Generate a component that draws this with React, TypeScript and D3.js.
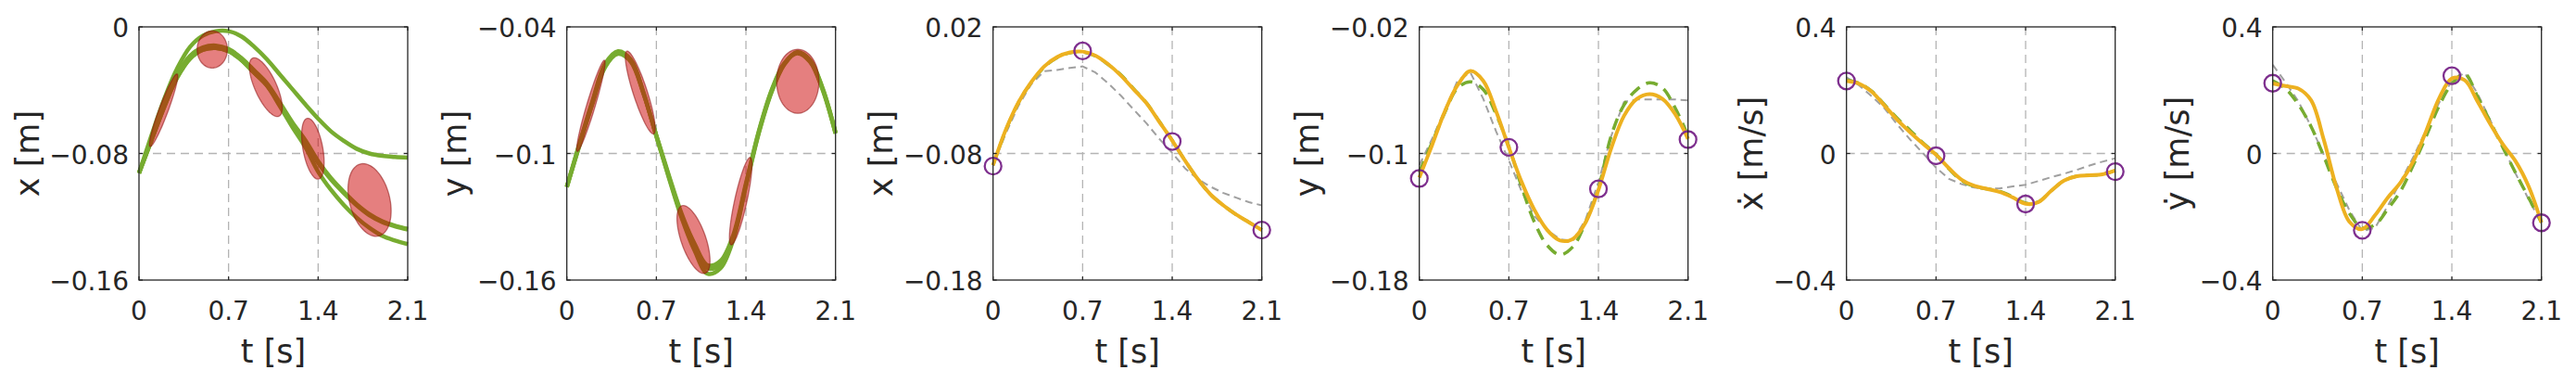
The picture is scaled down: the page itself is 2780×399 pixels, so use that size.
import React from 'react';
import * as d3 from 'd3';

// time grid of the sampled curves
const tGrid = [0, 0.1, 0.2, 0.3, 0.4, 0.5, 0.6, 0.7, 0.8, 0.9, 1.0, 1.1, 1.2, 1.3, 1.4, 1.5, 1.6, 1.7, 1.8, 1.9, 2.0, 2.1];
const tTicks = [0, 0.7, 1.4, 2.1];
const viaT = [0, 0.7, 1.4, 2.1];

// panel 1: x demonstrations
const xDemoA = [-0.0924, -0.0712, -0.0500, -0.0318, -0.0200, -0.0145, -0.0133, -0.0154, -0.0210, -0.0290, -0.0370, -0.0490, -0.0617, -0.0727, -0.0860, -0.0965, -0.1050, -0.1127, -0.1190, -0.1233, -0.1260, -0.1281];
const xDemoA2 = [-0.0924, -0.0705, -0.0488, -0.0300, -0.0182, -0.0130, -0.0118, -0.0140, -0.0196, -0.0275, -0.0357, -0.0478, -0.0605, -0.0716, -0.0848, -0.0955, -0.1042, -0.1120, -0.1183, -0.1228, -0.1256, -0.1276];
const xDemoB = [-0.0924, -0.0680, -0.0450, -0.0260, -0.0125, -0.0055, -0.0027, -0.0027, -0.0060, -0.0125, -0.0205, -0.0300, -0.0395, -0.0490, -0.0580, -0.0660, -0.0720, -0.0770, -0.0800, -0.0815, -0.0822, -0.0826];
const xDemoC = [-0.0924, -0.0712, -0.0500, -0.0318, -0.0200, -0.0145, -0.0133, -0.0154, -0.0210, -0.0290, -0.0372, -0.0500, -0.0635, -0.0760, -0.0915, -0.1030, -0.1125, -0.1205, -0.1270, -0.1320, -0.1350, -0.1373];
const xEllT = [0.192, 0.5725, 0.991, 1.359, 1.802];
const xEllV = [-0.0527, -0.01426, -0.0381, -0.077, -0.1094];
const xEllSdT = [0.1107, 0.1179, 0.1287, 0.0878, 0.1684];
const xEllSdV = [0.02295, 0.01172, 0.01856, 0.01924, 0.02295];
const xEllRho = [0.94, 0, -0.7, -0.45, -0.3];

// panel 2: y demonstrations
const yDemoA = [-0.1159, -0.0956, -0.0760, -0.0583, -0.0522, -0.0560, -0.0715, -0.0918, -0.1115, -0.1300, -0.1445, -0.1545, -0.1525, -0.1400, -0.1150, -0.0900, -0.0705, -0.0575, -0.0522, -0.0560, -0.0695, -0.0903];
const yDemoB = [-0.1159, -0.0950, -0.0752, -0.0575, -0.0515, -0.0555, -0.0712, -0.0918, -0.1120, -0.1310, -0.1462, -0.1570, -0.1545, -0.1410, -0.1155, -0.0905, -0.0710, -0.0578, -0.0520, -0.0556, -0.0692, -0.0900];
const yDemoC = [-0.1159, -0.0960, -0.0765, -0.0590, -0.0528, -0.0565, -0.0718, -0.0915, -0.1108, -0.1290, -0.1430, -0.1530, -0.1510, -0.1388, -0.1142, -0.0895, -0.0700, -0.0572, -0.0525, -0.0565, -0.0700, -0.0906];
const yEllT = [0.188, 0.574, 0.99, 1.359, 1.805];
const yEllV = [-0.0774, -0.0711, -0.1408, -0.1226, -0.0658];
const yEllSdT = [0.111, 0.117, 0.129, 0.0881, 0.1654];
const yEllSdV = [0.0216, 0.01963, 0.01612, 0.0207, 0.01516];
const yEllRho = [0.95, -0.87, -0.62, 0.83, 0];

// panel 3: x reproduction
const xRep = [-0.0893, -0.0612, -0.0393, -0.0234, -0.0112, -0.0039, -0.0002, 0.0005, -0.0027, -0.0095, -0.0185, -0.0295, -0.0405, -0.0551, -0.0698, -0.0856, -0.1002, -0.1124, -0.1210, -0.1283, -0.1344, -0.1405];
const xRef = [-0.0893, -0.0615, -0.0396, -0.0238, -0.0118, -0.0043, -0.0005, 0.0002, -0.0030, -0.0098, -0.0180, -0.0290, -0.0402, -0.0548, -0.0696, -0.0856, -0.1002, -0.1124, -0.1210, -0.1283, -0.1344, -0.1405];
const xPlan = [-0.0893, -0.0640, -0.0420, -0.0250, -0.0150, -0.0140, -0.0125, -0.0112, -0.0160, -0.0246, -0.0344, -0.0454, -0.0563, -0.0685, -0.0795, -0.0917, -0.1002, -0.1063, -0.1112, -0.1149, -0.1185, -0.1210];
const xVia = [-0.0900, 0.001, -0.0705, -0.1405];

// panel 4: y reproduction
const yRep = [-0.1152, -0.0947, -0.0733, -0.0567, -0.0479, -0.0541, -0.0733, -0.0963, -0.1181, -0.1357, -0.1484, -0.1550, -0.1540, -0.1435, -0.1230, -0.0967, -0.0762, -0.0655, -0.0625, -0.0655, -0.0752, -0.0908];
const yRef = [-0.1120, -0.0930, -0.0740, -0.0586, -0.0547, -0.0596, -0.0752, -0.0957, -0.1210, -0.1435, -0.1581, -0.1640, -0.1590, -0.1435, -0.1220, -0.0888, -0.0693, -0.0596, -0.0553, -0.0586, -0.0713, -0.0889];
const yPlan = [-0.1074, -0.0908, -0.0723, -0.0538, -0.0489, -0.0655, -0.0860, -0.1045, -0.1240, -0.1396, -0.1484, -0.1542, -0.1552, -0.1416, -0.1181, -0.0889, -0.0674, -0.0659, -0.0659, -0.0659, -0.0659, -0.0664];
const yVia = [-0.1158, -0.0961, -0.1224, -0.0912];

// panel 5: x velocity
const dxRep = [0.229, 0.220, 0.194, 0.150, 0.105, 0.066, 0.030, -0.004, -0.046, -0.083, -0.102, -0.112, -0.122, -0.139, -0.159, -0.154, -0.118, -0.086, -0.072, -0.069, -0.066, -0.054];
const dxRef = [0.232, 0.222, 0.196, 0.153, 0.110, 0.072, 0.033, -0.003, -0.048, -0.086, -0.104, -0.112, -0.120, -0.137, -0.157, -0.153, -0.118, -0.086, -0.072, -0.069, -0.066, -0.054];
const dxPlan = [0.241, 0.215, 0.180, 0.141, 0.090, 0.043, 0.000, -0.045, -0.080, -0.097, -0.108, -0.112, -0.110, -0.104, -0.099, -0.087, -0.075, -0.064, -0.052, -0.038, -0.026, -0.015];
const dxVia = [0.2291, -0.0073, -0.1597, -0.0575];

// panel 6: y velocity
const dyRep = [0.221, 0.213, 0.205, 0.168, 0.042, -0.110, -0.216, -0.239, -0.195, -0.139, -0.091, -0.024, 0.072, 0.174, 0.237, 0.232, 0.165, 0.093, 0.028, -0.026, -0.104, -0.218];
const dyRef = [0.230, 0.205, 0.155, 0.085, -0.010, -0.110, -0.190, -0.235, -0.225, -0.175, -0.118, -0.035, 0.055, 0.150, 0.220, 0.252, 0.180, 0.100, 0.018, -0.063, -0.140, -0.218];
const dyPlan = [0.280, 0.225, 0.165, 0.085, -0.005, -0.095, -0.180, -0.245, -0.235, -0.165, -0.088, -0.010, 0.075, 0.160, 0.230, 0.255, 0.190, 0.105, 0.020, -0.065, -0.145, -0.220];
const dyVia = [0.222, -0.2427, 0.2455, -0.219];

const GREEN = '#77AC30';
const ORANGE = '#EDB120';
const PURPLE = '#7E2F8E';
const GRAY = '#a0a0a0';
const INK = '#262626';
const FONT = '"DejaVu Sans", sans-serif';

const TOP = 29;
const BOTTOM = 302;
const BOX_W = 290;

type Series = { values: number[]; kind: 'demo' | 'plan' | 'ref' | 'rep' };
type Ell = { t: number[]; v: number[]; sdT: number[]; sdV: number[]; rho: number[] };
type PanelCfg = {
  left: number;
  yDomain: [number, number];
  yTicks: number[];
  label: string;
  labelOffset: number;
  series: Series[];
  ellipses?: Ell;
  via?: number[];
};

const panels: PanelCfg[] = [
  {
    left: 150, yDomain: [-0.16, 0], yTicks: [-0.16, -0.08, 0], label: 'x [m]', labelOffset: 108,
    series: [xDemoB, xDemoC, xDemoA, xDemoA2].map(values => ({ values, kind: 'demo' as const })),
    ellipses: { t: xEllT, v: xEllV, sdT: xEllSdT, sdV: xEllSdV, rho: xEllRho },
  },
  {
    left: 611.7, yDomain: [-0.16, -0.04], yTicks: [-0.16, -0.1, -0.04], label: 'y [m]', labelOffset: 109,
    series: [yDemoA, yDemoB, yDemoC].map(values => ({ values, kind: 'demo' as const })),
    ellipses: { t: yEllT, v: yEllV, sdT: yEllSdT, sdV: yEllSdV, rho: yEllRho },
  },
  {
    left: 1071.7, yDomain: [-0.18, 0.02], yTicks: [-0.18, -0.08, 0.02], label: 'x [m]', labelOffset: 109,
    series: [{ values: xPlan, kind: 'plan' }, { values: xRef, kind: 'ref' }, { values: xRep, kind: 'rep' }],
    via: xVia,
  },
  {
    left: 1531.7, yDomain: [-0.18, -0.02], yTicks: [-0.18, -0.1, -0.02], label: 'y [m]', labelOffset: 109,
    series: [{ values: yPlan, kind: 'plan' }, { values: yRef, kind: 'ref' }, { values: yRep, kind: 'rep' }],
    via: yVia,
  },
  {
    left: 1992.7, yDomain: [-0.4, 0.4], yTicks: [-0.4, 0, 0.4], label: 'ẋ [m/s]', labelOffset: 91,
    series: [{ values: dxPlan, kind: 'plan' }, { values: dxRef, kind: 'ref' }, { values: dxRep, kind: 'rep' }],
    via: dxVia,
  },
  {
    left: 2452.7, yDomain: [-0.4, 0.4], yTicks: [-0.4, 0, 0.4], label: 'ẏ [m/s]', labelOffset: 91,
    series: [{ values: dyPlan, kind: 'plan' }, { values: dyRef, kind: 'ref' }, { values: dyRep, kind: 'rep' }],
    via: dyVia,
  },
];

const styleOf = {
  demo: { stroke: GREEN, width: 4.5, dash: undefined, curve: d3.curveCatmullRom },
  plan: { stroke: GRAY, width: 2, dash: '8 5', curve: d3.curveLinear },
  ref: { stroke: GREEN, width: 3.5, dash: '13 8', curve: d3.curveCatmullRom },
  rep: { stroke: ORANGE, width: 4, dash: undefined, curve: d3.curveCatmullRom },
};

const fmt = d3.format('~g');
const angles = d3.range(0, 2 * Math.PI, Math.PI / 40);

function Panel({ cfg }: { cfg: PanelCfg }) {
  const x = d3.scaleLinear().domain([0, 2.1]).range([cfg.left, cfg.left + BOX_W]);
  const y = d3.scaleLinear().domain(cfg.yDomain).range([BOTTOM, TOP]);
  const right = cfg.left + BOX_W;

  const ellipsePaths: string[] = [];
  if (cfg.ellipses) {
    const e = cfg.ellipses;
    e.t.forEach((ct, i) => {
      const s = Math.sqrt(1 - e.rho[i] * e.rho[i]);
      const pts = angles.map(a => [
        x(ct + e.sdT[i] * Math.cos(a)),
        y(e.v[i] + e.sdV[i] * (e.rho[i] * Math.cos(a) + s * Math.sin(a))),
      ] as [number, number]);
      ellipsePaths.push(d3.line().curve(d3.curveLinearClosed)(pts) || '');
    });
  }

  return (
    <g>
      {tTicks.slice(1, -1).map(t => (
        <line key={'gx' + t} x1={x(t)} x2={x(t)} y1={TOP} y2={BOTTOM} stroke="#b4b4b4" strokeWidth={1.3} strokeDasharray="9 6" />
      ))}
      {cfg.yTicks.slice(1, -1).map(v => (
        <line key={'gy' + v} x1={cfg.left} x2={right} y1={y(v)} y2={y(v)} stroke="#b4b4b4" strokeWidth={1.3} strokeDasharray="9 6" />
      ))}

      {cfg.series.map((s, i) => {
        const st = styleOf[s.kind];
        const d = d3.line<number>().x((_, j) => x(tGrid[j])).y(v => y(v)).curve(st.curve)(s.values) || '';
        return <path key={i} d={d} fill="none" stroke={st.stroke} strokeWidth={st.width} strokeDasharray={st.dash} strokeLinejoin="round" />;
      })}

      {ellipsePaths.map((d, i) => (
        <path key={'e' + i} d={d} fill="rgb(204,0,0)" fillOpacity={0.5} stroke="#8c1010" strokeOpacity={0.55} strokeWidth={1.3} />
      ))}

      {cfg.via && cfg.via.map((v, i) => (
        <circle key={'v' + i} cx={x(viaT[i])} cy={y(v)} r={9} fill="none" stroke={PURPLE} strokeWidth={2.3} />
      ))}

      <rect x={cfg.left} y={TOP} width={BOX_W} height={BOTTOM - TOP} fill="none" stroke={INK} strokeWidth={1.3} />
      {tTicks.map(t => (
        <g key={'tx' + t}>
          <line x1={x(t)} x2={x(t)} y1={BOTTOM} y2={BOTTOM - 4} stroke={INK} strokeWidth={1.2} />
          <line x1={x(t)} x2={x(t)} y1={TOP} y2={TOP + 4} stroke={INK} strokeWidth={1.2} />
          <text x={x(t)} y={345} textAnchor="middle" fontSize={28} fontFamily={FONT} fill={INK}>{fmt(t)}</text>
        </g>
      ))}
      {cfg.yTicks.map(v => (
        <g key={'ty' + v}>
          <line x1={cfg.left} x2={cfg.left + 4} y1={y(v)} y2={y(v)} stroke={INK} strokeWidth={1.2} />
          <line x1={right} x2={right - 4} y1={y(v)} y2={y(v)} stroke={INK} strokeWidth={1.2} />
          <text x={cfg.left - 11} y={y(v) + 11} textAnchor="end" fontSize={28} fontFamily={FONT} fill={INK}>{fmt(v)}</text>
        </g>
      ))}
      <text x={(cfg.left + right) / 2} y={391} textAnchor="middle" fontSize={35} fontFamily={FONT} fill={INK}>t [s]</text>
      <text
        transform={`translate(${cfg.left - cfg.labelOffset},${(TOP + BOTTOM) / 2}) rotate(-90)`}
        textAnchor="middle" fontSize={35} fontFamily={FONT} fill={INK}
      >{cfg.label}</text>
    </g>
  );
}

export default function App() {
  return (
    <svg width={2780} height={399} style={{ position: 'absolute', left: 0, top: 0, background: '#fff' }}>
      {panels.map((p, i) => <Panel key={i} cfg={p} />)}
    </svg>
  );
}
